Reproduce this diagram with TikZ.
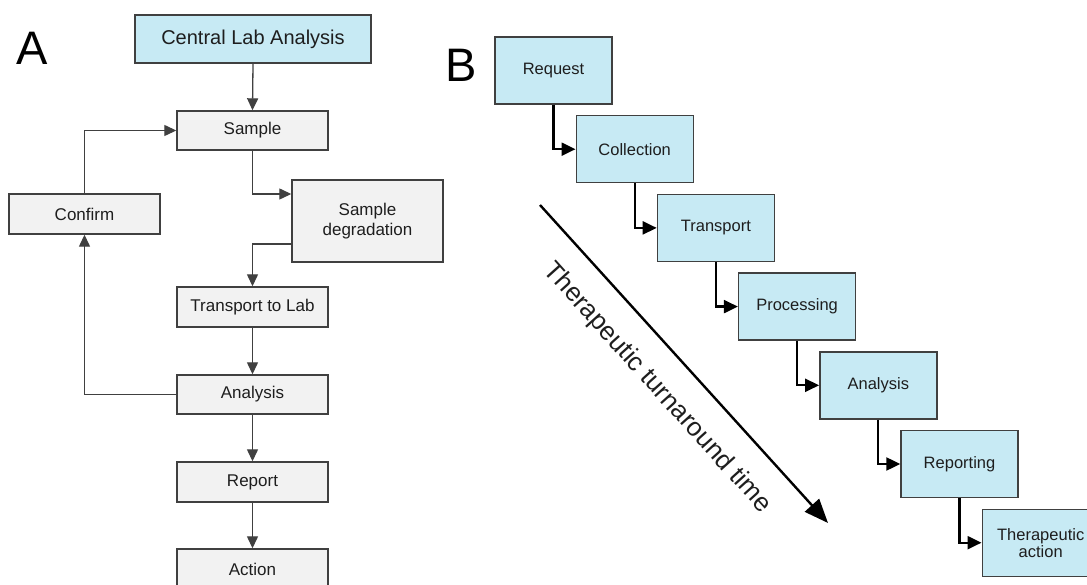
\documentclass[tikz,border=0pt]{standalone}
\usepackage{fontspec}
\setmainfont{Liberation Sans}
\usetikzlibrary{arrows.meta}
\definecolor{boxblue}{RGB}{199,234,244}
\definecolor{boxgray}{RGB}{242,242,242}
\definecolor{edge}{RGB}{64,64,64}
\definecolor{txt}{RGB}{30,30,30}
\tikzset{
  boxa/.style={draw=edge, line width=1.4pt, fill=boxgray, minimum width=151pt, minimum height=40pt, inner sep=0pt, text=txt, font=\fontsize{17}{20}\selectfont, align=center},
  boxb/.style={draw=edge, line width=1.4pt, fill=boxblue, minimum width=117pt, minimum height=67pt, inner sep=0pt, text=txt, font=\fontsize{16.5}{19}\selectfont, align=center},
  arra/.style={draw=edge, line width=1.3pt, -{Triangle[length=12pt,width=11pt]}},
  arrb/.style={draw=black, line width=2.2pt, -{Triangle[length=14pt,width=13pt]}},
  panel/.style={font=\fontsize{47}{50}\selectfont, text=black, inner sep=0pt}
}
\begin{document}
\begin{tikzpicture}[x=1pt,y=-1pt]
\useasboundingbox[fill=white] (0,0) rectangle (1087,585);
% Panel A
\node[panel] (lA) at (32.5,48.5) {A};
\node[boxa, fill=boxblue, minimum width=236pt, minimum height=48pt, font=\fontsize{20}{24}\selectfont] (cla) at (253,39) {Central Lab Analysis};
\node[boxa, minimum height=39pt] (sample) at (252.5,130.5) {Sample};
\node[boxa] (confirm) at (84.5,214) {Confirm};
\node[boxa, minimum height=82pt] (sdeg) at (367.5,221) {Sample\\degradation};
\node[boxa] (transp) at (252.5,307) {Transport to Lab};
\node[boxa, minimum height=39pt] (anA) at (252.5,394.5) {Analysis};
\node[boxa] (report) at (252.5,482) {Report};
\node[boxa] (action) at (252.5,569) {Action};
\draw[arra] (cla.south) -- (sample.north);
\draw[arra] (sample.south) |- ([yshift=27pt]sdeg.west);
\draw[arra] ([yshift=-23pt]sdeg.west) -| (transp.north);
\draw[arra] (transp.south) -- (anA.north);
\draw[arra] (anA.west) -| (confirm.south);
\draw[arra] (confirm.north) |- (sample.west);
\draw[arra] (anA.south) -- (report.north);
\draw[arra] (report.south) -- (action.north);
% Panel B
\node[panel] (lB) at (461.5,65.5) {B};
\node[boxb] (req) at (553.5,70.5) {Request};
\node[boxb] (coll) at (634.7,149.2) {Collection};
\node[boxb] (trB) at (715.9,227.9) {Transport};
\node[boxb] (proc) at (797.1,306.6) {Processing};
\node[boxb] (anB) at (878.3,385.3) {Analysis};
\node[boxb] (rep) at (959.5,464) {Reporting};
\node[boxb] (ther) at (1040.7,542.7) {Therapeutic\\[-2pt]action};
\draw[arrb] (req.south) |- (coll.west);
\draw[arrb] (coll.south) |- (trB.west);
\draw[arrb] (trB.south) |- (proc.west);
\draw[arrb] (proc.south) |- (anB.west);
\draw[arrb] (anB.south) |- (rep.west);
\draw[arrb] (rep.south) |- (ther.west);
% Turnaround arrow
\coordinate (ts) at (540,205);
\coordinate (te) at (828,523);
\draw[line width=2.4pt, -{Triangle[length=24pt,width=19pt]}] (ts) -- (te);
\node[rotate=-48, font=\fontsize{26}{30}\selectfont, text=txt, inner sep=0pt] (tt) at (657,388) {Therapeutic turnaround time};
\end{tikzpicture}
\end{document}
